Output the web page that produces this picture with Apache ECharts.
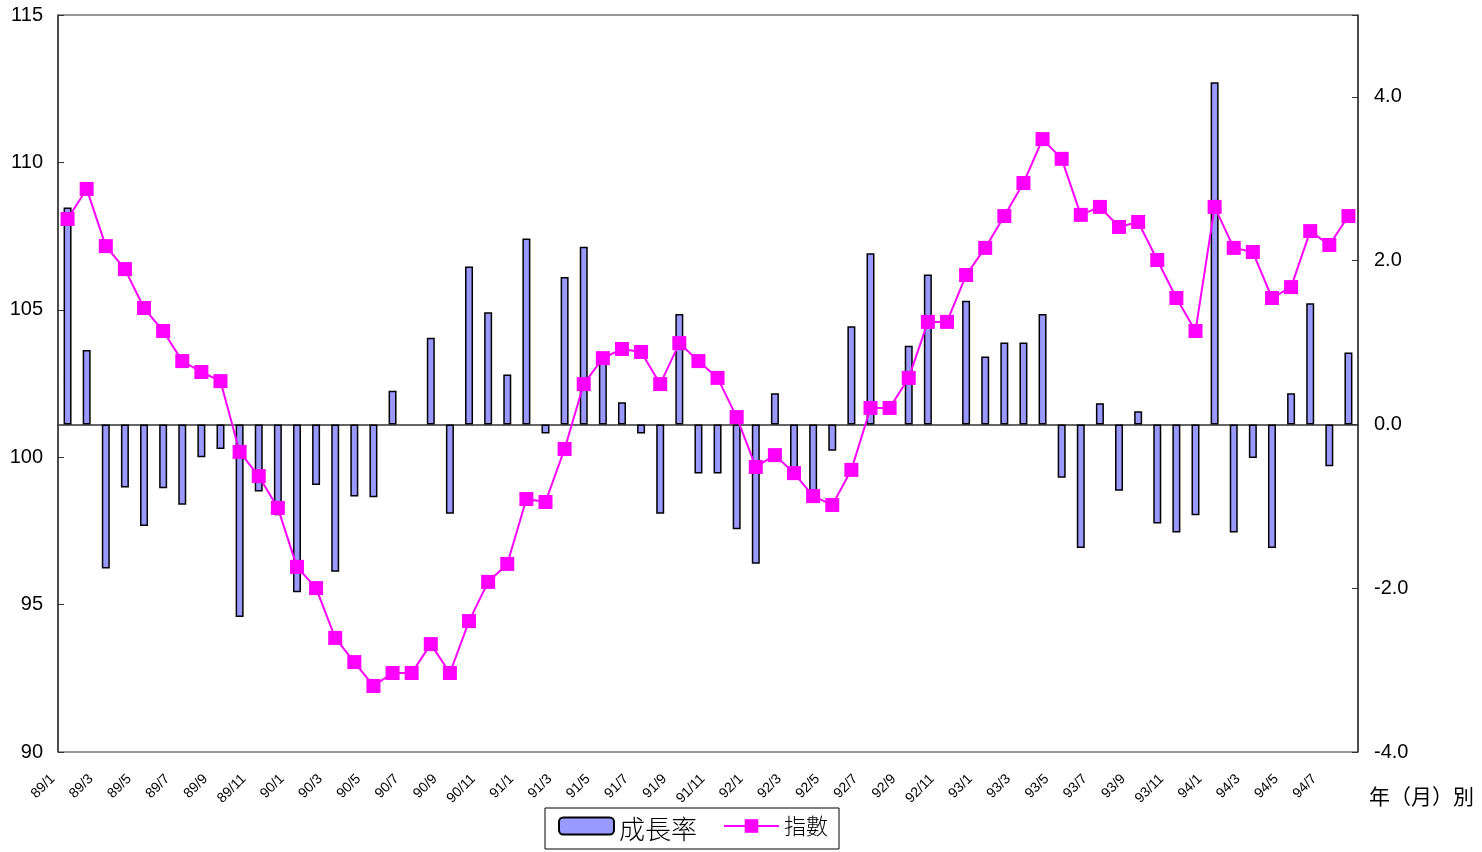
<!DOCTYPE html>
<html>
<head>
<meta charset="utf-8">
<script src="https://cdn.jsdelivr.net/npm/echarts@6/dist/echarts.min.js"></script>
<style>
  html, body { margin: 0; padding: 0; background: #fff; }
  #chart { width: 1482px; height: 852px; }
</style>
</head>
<body>
<div id="chart"></div>
<script>
// months 89/1 .. 94/8
var months = [];
for (var y = 89; y <= 94; y++) {
  for (var m = 1; m <= 12; m++) {
    if (y === 94 && m > 8) break;
    months.push(y + "/" + m);
  }
}

// 指數 (left axis)
var indexValues = [
  108.08, 109.10, 107.16, 106.38, 105.06, 104.28, 103.26, 102.89, 102.58, 100.18, 99.36, 98.28,
  96.28, 95.56, 93.87, 93.05, 92.24, 92.68, 92.68, 93.66, 92.68, 94.44, 95.77, 96.38,
  98.58, 98.48, 100.28, 102.48, 103.36, 103.67, 103.57, 102.48, 103.87, 103.26, 102.69, 101.36,
  99.67, 100.07, 99.46, 98.68, 98.38, 99.57, 101.67, 101.67, 102.69, 104.59, 104.59, 106.18,
  107.10, 108.18, 109.30, 110.79, 110.12, 108.22, 108.49, 107.81, 107.98, 106.69, 105.40, 104.28,
  108.49, 107.10, 106.96, 105.40, 105.77, 107.67, 107.20, 108.18
];

// 成長率 (right axis)
var growthValues = [
  2.65, 0.91, -1.76, -0.77, -1.24, -0.78, -0.98, -0.40, -0.30, -2.35, -0.82, -1.11,
  -2.05, -0.74, -1.80, -0.88, -0.89, 0.41, 0, 1.06, -1.09, 1.93, 1.37, 0.61,
  2.27, -0.11, 1.80, 2.17, 0.78, 0.27, -0.11, -1.09, 1.35, -0.60, -0.60, -1.28,
  -1.70, 0.38, -0.57, -0.81, -0.32, 1.20, 2.09, 0, 0.96, 1.83, 0, 1.51,
  0.83, 1.00, 1.00, 1.35, -0.65, -1.51, 0.26, -0.81, 0.16, -1.21, -1.32, -1.11,
  4.18, -1.32, -0.41, -1.51, 0.38, 1.48, -0.51, 0.88
];

var leftTicks = [90, 95, 100, 105, 110, 115];
var rightTicks = [-4, -2, 0, 2, 4];

var chart = echarts.init(document.getElementById("chart"));
var font = "Liberation Sans, Arial, sans-serif";
var cjk = "Noto Sans CJK TC, sans-serif";

var option = {
  animation: false,
  textStyle: { fontFamily: font },
  grid: {
    left: 58,
    right: 124,
    top: 15,
    bottom: 100,
    show: true,
    borderColor: "#333",
    borderWidth: 1,
  },
  legend: {
    left: 545,
    top: 808,
    padding: [7, 11, 7, 13],
    itemGap: 26,
    itemWidth: 55,
    itemHeight: 17,
    borderColor: "#000",
    borderWidth: 1,
    formatter: function (name) {
      return name === "成長率" ? "{b|" + name + "}" : "{s|" + name + "}";
    },
    textStyle: {
      fontFamily: cjk,
      color: "#000",
      rich: {
        b: { fontFamily: cjk, fontSize: 26, fontWeight: 300, padding: [6, 0, 0, 0] },
        s: { fontFamily: cjk, fontSize: 22, fontWeight: 300 },
      },
    },
    data: ["成長率", "指數"],
  },
  xAxis: {
    type: "category",
    data: months,
    boundaryGap: true,
    axisLine: { lineStyle: { color: "#333", width: 1.5 } },
    axisTick: { inside: true, length: 5, interval: 0, lineStyle: { color: "#333" } },
    axisLabel: {
      interval: 1,
      rotate: 45,
      fontSize: 14,
      color: "#000",
      margin: 10,
      padding: [0, 21, 0, 0],
    },
  },
  yAxis: [
    {
      type: "value",
      min: leftTicks[0],
      max: leftTicks[leftTicks.length - 1],
      interval: 5,
      splitLine: { show: false },
      axisLine: { show: true, lineStyle: { color: "#333", width: 1.5 } },
      axisTick: { show: true, inside: true, length: 6, lineStyle: { color: "#333" } },
      axisLabel: { fontSize: 20, color: "#000", margin: 15 },
    },
    {
      type: "value",
      min: rightTicks[0],
      max: 5,
      interval: 2,
      splitLine: { show: false },
      axisLine: { show: true, lineStyle: { color: "#333", width: 1.5 } },
      axisTick: { show: true, inside: true, length: 6, lineStyle: { color: "#333" } },
      axisLabel: {
        fontSize: 20,
        color: "#000",
        margin: 16,
        formatter: function (v) {
          return rightTicks.indexOf(v) >= 0 ? v.toFixed(1) : "";
        },
      },
    },
  ],
  graphic: [
    {
      type: "text",
      left: 1369,
      top: 786,
      style: { text: "年（月）別", font: "21px " + cjk, fill: "#000" },
    },
  ],
  series: [
    {
      name: "成長率",
      type: "bar",
      yAxisIndex: 1,
      barWidth: 8,
      itemStyle: { color: "#9999FF", borderColor: "#000", borderWidth: 1.5 },
      // a zero rate draws no bar in the original
      data: growthValues.map(function (v) { return v === 0 ? null : v; }),
    },
    {
      name: "指數",
      type: "line",
      yAxisIndex: 0,
      symbol: "rect",
      symbolSize: 14,
      showAllSymbol: true,
      lineStyle: { color: "#FF00FF", width: 2 },
      itemStyle: { color: "#FF00FF" },
      data: indexValues,
      z: 3,
    },
  ],
};
chart.setOption(option);
</script>
</body>
</html>
